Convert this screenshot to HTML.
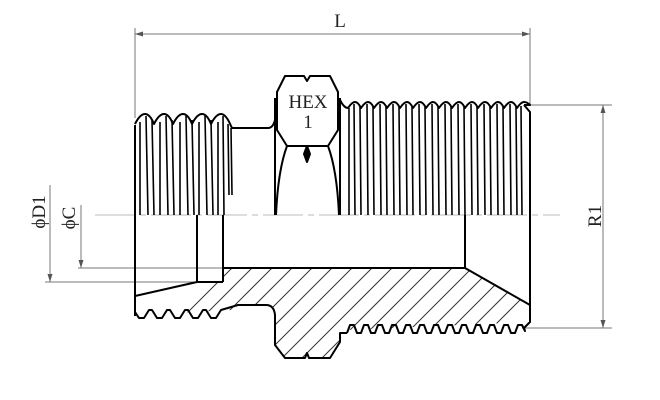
<!DOCTYPE html>
<html><head><meta charset="utf-8"><style>
html,body{margin:0;padding:0;background:#fff;}
svg{display:block;}
</style></head><body>
<svg width="660" height="400" viewBox="0 0 660 400" xmlns="http://www.w3.org/2000/svg" font-family="Liberation Serif, serif">
<defs>
<clipPath id="hc">
<path d="M223,268 L465,268 L530,305 L530,322 L345,330 L340,340 L330,358 L285,358 L275,345 L275,315 L270,305 L238,305 L232,310 L135,315 L135,296 L197,282 L223,282 Z"/>
</clipPath>
</defs>
<g stroke="#777" stroke-width="1" fill="none">
<line x1="135" y1="28" x2="135" y2="118"/>
<line x1="530" y1="28" x2="530" y2="105"/>
<line x1="135" y1="34" x2="530" y2="34"/>
<line x1="530" y1="105" x2="612" y2="105"/>
<line x1="522" y1="328" x2="612" y2="328"/>
<line x1="603" y1="105" x2="603" y2="328"/>
<line x1="45" y1="282" x2="200" y2="282"/>
<line x1="78" y1="268" x2="225" y2="268"/>
<line x1="50" y1="185" x2="50" y2="282"/>
<line x1="81" y1="205" x2="81" y2="268"/>
</g>
<g fill="#555">
<path d="M135,34 l8,-2.5 l0,5 z"/><path d="M530,34 l-8,-2.5 l0,5 z"/>
<path d="M603,105 l-2.5,8 l5,0 z"/><path d="M603,328 l-2.5,-8 l5,0 z"/>
<path d="M50,282 l-2.5,-8 l5,0 z"/><path d="M81,268 l-2.5,-8 l5,0 z"/>
</g>
<line x1="95" y1="215" x2="560" y2="215" stroke="#bbb" stroke-width="1" stroke-dasharray="40,5,6,5"/>
<g clip-path="url(#hc)" stroke="#333" stroke-width="1">
<line x1="100" y1="400" x2="300" y2="200"/><line x1="120" y1="400" x2="320" y2="200"/><line x1="140" y1="400" x2="340" y2="200"/>
<line x1="160" y1="400" x2="360" y2="200"/><line x1="180" y1="400" x2="380" y2="200"/><line x1="200" y1="400" x2="400" y2="200"/>
<line x1="220" y1="400" x2="420" y2="200"/><line x1="240" y1="400" x2="440" y2="200"/><line x1="260" y1="400" x2="460" y2="200"/>
<line x1="280" y1="400" x2="480" y2="200"/><line x1="300" y1="400" x2="500" y2="200"/><line x1="320" y1="400" x2="520" y2="200"/>
<line x1="340" y1="400" x2="540" y2="200"/><line x1="360" y1="400" x2="560" y2="200"/><line x1="380" y1="400" x2="580" y2="200"/>
<line x1="400" y1="400" x2="600" y2="200"/><line x1="420" y1="400" x2="620" y2="200"/>
</g>
<g stroke="#000" stroke-width="2" fill="none" stroke-linejoin="round">
<line x1="135" y1="125" x2="135" y2="316"/>
<path d="M135,124 q5,-10 10,-10 q5,0 9,10 q5,-10 10,-10 q5,0 9,10 q5,-10 10,-10 q5,0 9,10 q5,-10 10,-10 q5,0 9,10 q5,-10 10,-10 q5,0 10,12 L232,128 L268,128 q5,0 7,-8"/>
<g stroke-width="1.6">
<line x1="140" y1="122" x2="140" y2="215"/><line x1="146" y1="116" x2="148" y2="215"/><line x1="152" y1="120" x2="154" y2="215"/>
<line x1="160" y1="122" x2="160" y2="215"/><line x1="166" y1="116" x2="168" y2="215"/><line x1="172" y1="120" x2="174" y2="215"/>
<line x1="180" y1="122" x2="180" y2="215"/><line x1="186" y1="116" x2="188" y2="215"/><line x1="192" y1="120" x2="194" y2="215"/>
<line x1="199" y1="122" x2="199" y2="215"/><line x1="205" y1="116" x2="207" y2="215"/><line x1="211" y1="120" x2="213" y2="215"/>
<line x1="218" y1="122" x2="218" y2="215"/><line x1="223" y1="116" x2="224" y2="215"/><line x1="228" y1="124" x2="229" y2="195"/><line x1="231" y1="128" x2="232" y2="195"/>
</g>
<line x1="197" y1="215" x2="197" y2="282"/>
<line x1="223" y1="215" x2="223" y2="282"/>
<line x1="197" y1="282" x2="223" y2="282"/>
<line x1="135" y1="296" x2="197" y2="282"/>
<line x1="223" y1="268" x2="465" y2="268"/>
<path d="M135,312 l4,6 l5,0 l5,-8 l3,0 l5,8 l5,0 l5,-8 l3,0 l5,8 l5,0 l5,-8 l3,0 l5,8 l5,0 l5,-8 l3,0 l5,8 l5,0 l5,-8 L238,305 L266,305 q8,0 9,10 L275,345 L285,358 L305,358 l2,-5 l2,5 L330,358 L340,342 L340,333 L347,333"/>
<path d="M347,333 l3,-8 l4,0 l3,8 l4,0 l3,-8 l4,0 l3,8 l4,0 l3,-8 l4,0 l3,8 l4,0 l3,-8 l4,0 l3,8 l4,0 l3,-8 l4,0 l3,8 l4,0 l3,-8 l4,0 l3,8 l4,0 l3,-8 l4,0 l3,8 l4,0 l3,-8 l4,0 l3,8 l4,0 l3,-8 l4,0 l3,8 l4,0 l3,-8 l4,0 l3,8 l4,0 l3,-8 l4,0 l3,8 l4,0 l3,-8 l4,0 l3,8 l4,0 l3,-8 l4,0 l3,6 L524,328 L530,322 L530,112 L524,105"/>
<line x1="465" y1="215" x2="465" y2="268"/>
<line x1="465" y1="268" x2="530" y2="305"/>
<path d="M340,100 q4,8 8,8 q4,-6 7,-6 q3,0 6,6 q4,-6 7,-6 q3,0 6,6 q4,-6 7,-6 q3,0 6,6 q4,-6 7,-6 q3,0 6,6 q4,-6 7,-6 q3,0 6,6 q4,-6 7,-6 q3,0 6,6 q4,-6 7,-6 q3,0 6,6 q4,-6 7,-6 q3,0 6,6 q4,-6 7,-6 q3,0 6,6 q4,-6 7,-6 q3,0 6,6 q4,-6 7,-6 q3,0 6,6 q4,-6 7,-6 q3,0 6,6 q4,-6 7,-6 q3,0 6,6 q4,-6 7,-6 q3,0 6,3 L524,105"/>
<g stroke-width="1.6">
<line x1="349" y1="108" x2="349" y2="215"/><line x1="354" y1="104" x2="355" y2="215"/><line x1="360" y1="107" x2="361" y2="215"/>
<line x1="367" y1="104" x2="368" y2="215"/><line x1="373" y1="107" x2="374" y2="215"/><line x1="380" y1="104" x2="381" y2="215"/>
<line x1="386" y1="107" x2="387" y2="215"/><line x1="393" y1="104" x2="394" y2="215"/><line x1="399" y1="107" x2="400" y2="215"/>
<line x1="406" y1="104" x2="407" y2="215"/><line x1="412" y1="107" x2="413" y2="215"/><line x1="419" y1="104" x2="420" y2="215"/>
<line x1="425" y1="107" x2="426" y2="215"/><line x1="432" y1="104" x2="433" y2="215"/><line x1="438" y1="107" x2="439" y2="215"/>
<line x1="445" y1="104" x2="446" y2="215"/><line x1="451" y1="107" x2="452" y2="215"/><line x1="458" y1="104" x2="459" y2="215"/>
<line x1="464" y1="107" x2="465" y2="215"/><line x1="471" y1="104" x2="472" y2="215"/><line x1="477" y1="107" x2="478" y2="215"/>
<line x1="484" y1="104" x2="485" y2="215"/><line x1="490" y1="107" x2="491" y2="215"/><line x1="497" y1="104" x2="498" y2="215"/>
<line x1="503" y1="107" x2="504" y2="215"/><line x1="510" y1="104" x2="511" y2="215"/><line x1="516" y1="107" x2="517" y2="215"/>
<line x1="521" y1="106" x2="522" y2="215"/>
</g>
<path d="M285,76 L304,76 l3,5 l3,-5 L330,76 L338,92 L338,130 L328,146 L287,146 L277,130 L277,92 Z"/>
<line x1="275" y1="98" x2="275" y2="215"/>
<line x1="340" y1="98" x2="340" y2="215"/>
<path d="M287,146 Q278,170 276,215"/>
<path d="M328,146 Q337,170 339,215"/>
<path d="M307,146 l-3,8 l3,8 l3,-8 z" fill="#000"/>
</g>
<g fill="#222" font-size="19">
<text x="308" y="108" text-anchor="middle">HEX</text>
<text x="308" y="128" text-anchor="middle">1</text>
<text x="340" y="27" text-anchor="middle">L</text>
<text transform="translate(601,216) rotate(-90)" text-anchor="middle">R1</text>
<text transform="translate(45,212) rotate(-90)" text-anchor="middle">ϕD1</text>
<text transform="translate(75,218) rotate(-90)" text-anchor="middle">ϕC</text>
</g>
</svg>
</body></html>
